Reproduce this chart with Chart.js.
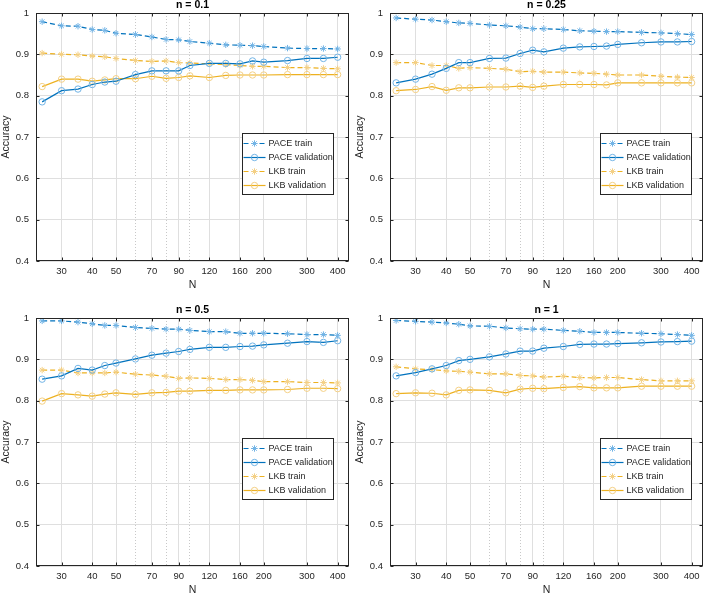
<!DOCTYPE html>
<html>
<head>
<meta charset="utf-8">
<title>PACE vs LKB accuracy</title>
<script src="https://cdn.jsdelivr.net/npm/chart.js@4.4.1/dist/chart.umd.min.js"></script>
<style>
  html, body { margin: 0; padding: 0; background: #fff; }
  #fig { position: relative; width: 708px; height: 597px; }
  #fig canvas { position: absolute; }
</style>
</head>
<body>
<div id="fig">
  <canvas id="p1" width="354" height="292" style="left:0;top:0"></canvas>
  <canvas id="p2" width="354" height="292" style="left:354px;top:0"></canvas>
  <canvas id="p3" width="354" height="292" style="left:0;top:305px"></canvas>
  <canvas id="p4" width="354" height="292" style="left:354px;top:305px"></canvas>
</div>
<script>
// training set sizes
const N_VALUES = [25, 30, 35, 40, 45, 50, 60, 70, 80, 90, 100, 120, 140, 160, 180, 200, 250, 300, 350, 400];
const X_TICKS = [30, 40, 50, 70, 90, 120, 160, 200, 300, 400];
const X_MINOR = [60, 80, 100];
const Y_TICKS = [0.4, 0.5, 0.6, 0.7, 0.8, 0.9, 1];
const TITLES = ["n = 0.1", "n = 0.25", "n = 0.5", "n = 1"];
const SERIES_NAMES = ["PACE train", "PACE validation", "LKB train", "LKB validation"];

// n = 0.1
const PACE_TRAIN_01 = [0.979, 0.969, 0.968, 0.960, 0.958, 0.951, 0.948, 0.942, 0.936, 0.935, 0.931, 0.927, 0.923, 0.922, 0.921, 0.919, 0.915, 0.914, 0.914, 0.913];
const PACE_VAL_01   = [0.785, 0.812, 0.816, 0.827, 0.833, 0.835, 0.851, 0.860, 0.860, 0.860, 0.873, 0.878, 0.878, 0.877, 0.884, 0.881, 0.885, 0.890, 0.890, 0.893];
const LKB_TRAIN_01  = [0.903, 0.900, 0.899, 0.896, 0.894, 0.890, 0.885, 0.883, 0.884, 0.880, 0.879, 0.877, 0.875, 0.873, 0.871, 0.871, 0.868, 0.868, 0.866, 0.865];
const LKB_VAL_01    = [0.822, 0.840, 0.840, 0.835, 0.838, 0.841, 0.841, 0.847, 0.842, 0.844, 0.848, 0.844, 0.849, 0.850, 0.850, 0.850, 0.851, 0.851, 0.851, 0.851];

// n = 0.25
const PACE_TRAIN_025 = [0.988, 0.985, 0.983, 0.979, 0.976, 0.975, 0.971, 0.969, 0.966, 0.962, 0.962, 0.960, 0.957, 0.956, 0.955, 0.955, 0.953, 0.952, 0.950, 0.948];
const PACE_VAL_025   = [0.831, 0.840, 0.852, 0.866, 0.880, 0.880, 0.890, 0.891, 0.902, 0.910, 0.906, 0.915, 0.918, 0.919, 0.920, 0.924, 0.928, 0.930, 0.930, 0.931];
const LKB_TRAIN_025  = [0.880, 0.880, 0.873, 0.873, 0.866, 0.868, 0.866, 0.864, 0.858, 0.859, 0.857, 0.857, 0.855, 0.854, 0.852, 0.850, 0.850, 0.847, 0.845, 0.844];
const LKB_VAL_025    = [0.812, 0.815, 0.822, 0.813, 0.819, 0.819, 0.821, 0.821, 0.823, 0.820, 0.823, 0.827, 0.827, 0.827, 0.826, 0.831, 0.831, 0.831, 0.831, 0.831];

// n = 0.5
const PACE_TRAIN_05 = [0.993, 0.993, 0.990, 0.986, 0.982, 0.982, 0.977, 0.975, 0.973, 0.973, 0.970, 0.967, 0.967, 0.963, 0.963, 0.963, 0.962, 0.960, 0.960, 0.958];
const PACE_VAL_05   = [0.852, 0.860, 0.878, 0.874, 0.885, 0.891, 0.901, 0.910, 0.915, 0.919, 0.924, 0.929, 0.929, 0.931, 0.932, 0.935, 0.939, 0.943, 0.941, 0.945];
const LKB_TRAIN_05  = [0.874, 0.874, 0.867, 0.867, 0.867, 0.869, 0.864, 0.862, 0.859, 0.854, 0.855, 0.854, 0.851, 0.851, 0.849, 0.846, 0.846, 0.844, 0.844, 0.843];
const LKB_VAL_05    = [0.799, 0.817, 0.814, 0.811, 0.816, 0.819, 0.815, 0.819, 0.820, 0.823, 0.823, 0.825, 0.825, 0.826, 0.826, 0.826, 0.827, 0.830, 0.830, 0.829];

// n = 1
const PACE_TRAIN_1 = [0.994, 0.992, 0.990, 0.988, 0.985, 0.981, 0.980, 0.976, 0.974, 0.973, 0.973, 0.970, 0.968, 0.965, 0.965, 0.965, 0.963, 0.962, 0.960, 0.958];
const PACE_VAL_1   = [0.860, 0.868, 0.877, 0.885, 0.897, 0.900, 0.906, 0.913, 0.920, 0.920, 0.927, 0.931, 0.936, 0.937, 0.937, 0.938, 0.940, 0.942, 0.943, 0.944];
const LKB_TRAIN_1  = [0.882, 0.877, 0.875, 0.872, 0.871, 0.869, 0.865, 0.865, 0.861, 0.860, 0.857, 0.859, 0.856, 0.855, 0.856, 0.856, 0.851, 0.848, 0.848, 0.848];
const LKB_VAL_1    = [0.817, 0.819, 0.818, 0.814, 0.825, 0.826, 0.825, 0.819, 0.828, 0.830, 0.829, 0.832, 0.834, 0.831, 0.831, 0.831, 0.835, 0.835, 0.835, 0.835];

const BLUE = "#0072bd", BLUE_MK = "#72b4e6";
const GOLD = "#edb120", GOLD_MK = "#f4d085";
const INK = "#262626";
const FONT = '"Liberation Sans", Arial, Helvetica, sans-serif';

function pts(vals) {
  return vals.map((v, i) => ({ x: N_VALUES[i], y: v }));
}

function makeDatasets(pt, pv, lt, lv) {
  const base = { tension: 0, borderWidth: 1.2, pointBorderWidth: 1, pointBackgroundColor: "rgba(0,0,0,0)", pointHoverRadius: 4 };
  return [
    Object.assign({}, base, { label: SERIES_NAMES[0], data: pts(pt), borderColor: BLUE, borderDash: [5, 3], pointStyle: "star", pointRadius: 3.2, pointBorderColor: BLUE_MK }),
    Object.assign({}, base, { label: SERIES_NAMES[1], data: pts(pv), borderColor: BLUE, pointStyle: "circle", pointRadius: 3.2, pointBorderColor: BLUE_MK }),
    Object.assign({}, base, { label: SERIES_NAMES[2], data: pts(lt), borderColor: GOLD, borderDash: [5, 3], pointStyle: "star", pointRadius: 3.2, pointBorderColor: GOLD_MK }),
    Object.assign({}, base, { label: SERIES_NAMES[3], data: pts(lv), borderColor: GOLD, pointStyle: "circle", pointRadius: 3.2, pointBorderColor: GOLD_MK })
  ];
}

function drawMarker(ctx, style, x, y, r) {
  ctx.beginPath();
  if (style === "circle") {
    ctx.arc(x, y, r, 0, Math.PI * 2);
  } else {
    for (let k = 0; k < 4; k++) {
      const a = k * Math.PI / 4;
      ctx.moveTo(x - Math.cos(a) * r, y - Math.sin(a) * r);
      ctx.lineTo(x + Math.cos(a) * r, y + Math.sin(a) * r);
    }
  }
  ctx.stroke();
}

// axes box, inward ticks, title and legend (MATLAB look)
const framePlugin = {
  id: "frame",
  afterDraw(chart, args, opts) {
    const { ctx, chartArea: a, scales } = chart;
    const x = scales.x, y = scales.y;
    const L = Math.round(a.left) + 0.5, R = Math.round(a.right) - 0.5;
    const T = Math.round(a.top) + 0.5, B = Math.round(a.bottom) - 0.5;
    ctx.save();
    ctx.strokeStyle = INK;
    ctx.lineWidth = 1;
    ctx.setLineDash([]);
    ctx.beginPath();
    X_TICKS.forEach((v) => {
      const px = Math.round(x.getPixelForValue(v)) + 0.5;
      ctx.moveTo(px, B); ctx.lineTo(px, B - 3);
      ctx.moveTo(px, T); ctx.lineTo(px, T + 3);
    });
    Y_TICKS.forEach((v) => {
      const py = Math.round(y.getPixelForValue(v)) + 0.5;
      ctx.moveTo(L, py); ctx.lineTo(L + 3, py);
      ctx.moveTo(R, py); ctx.lineTo(R - 3, py);
    });
    ctx.stroke();
    ctx.strokeRect(L, T, R - L, B - T);

    // title
    ctx.fillStyle = "#000";
    ctx.font = "bold 10.5px " + FONT;
    ctx.textAlign = "center";
    ctx.textBaseline = "middle";
    ctx.fillText(opts.title, (a.left + a.right) / 2, 5.5);

    // legend
    const lx = Math.round(a.left + opts.legendDx) + 0.5;
    const ly = Math.round(a.top + 120) + 0.5;
    const lw = 91, lh = 61;
    ctx.fillStyle = "#fff";
    ctx.fillRect(lx, ly, lw, lh);
    ctx.strokeStyle = INK;
    ctx.strokeRect(lx, ly, lw, lh);
    ctx.font = "9px " + FONT;
    ctx.textAlign = "left";
    chart.data.datasets.forEach((ds, i) => {
      const ry = ly + 10 + i * 14;
      ctx.strokeStyle = ds.borderColor;
      ctx.lineWidth = 1.2;
      ctx.setLineDash(ds.borderDash || []);
      ctx.beginPath();
      ctx.moveTo(lx + 1, ry); ctx.lineTo(lx + 23, ry);
      ctx.stroke();
      ctx.setLineDash([]);
      ctx.lineWidth = 1;
      ctx.strokeStyle = ds.pointBorderColor;
      drawMarker(ctx, ds.pointStyle, lx + 12, ry, 3.2);
      ctx.fillStyle = INK;
      ctx.fillText(ds.label, lx + 26, ry + 0.5);
    });
    ctx.restore();
  }
};

function makeChart(id, title, legendDx, datasets) {
  return new Chart(document.getElementById(id), {
    type: "line",
    data: { datasets: datasets },
    plugins: [framePlugin],
    options: {
      responsive: false,
      animation: false,
      layout: { padding: { top: 13, right: 5, left: 0, bottom: 0 } },
      plugins: {
        legend: { display: false },
        title: { display: false },
        tooltip: { enabled: true },
        frame: { title: title, legendDx: legendDx }
      },
      scales: {
        x: {
          type: "logarithmic",
          min: 23.6,
          max: 445,
          afterFit: (s) => { s.height = 31; },
          afterBuildTicks: (s) => {
            s.ticks = X_TICKS.concat(X_MINOR).sort((p, q) => p - q).map((v) => ({ value: v }));
          },
          ticks: {
            autoSkip: false,
            maxRotation: 0,
            padding: 5,
            color: INK,
            font: { family: FONT, size: 9.5 },
            callback: (v) => (X_TICKS.includes(v) ? String(v) : "")
          },
          grid: {
            drawTicks: false,
            color: (c) => (c.tick && X_MINOR.includes(c.tick.value) ? "#c8c8c8" : "#dfdfdf"),
            lineWidth: 1
          },
          border: {
            display: false,
            dash: (c) => (c.tick && X_MINOR.includes(c.tick.value) ? [1, 2] : [])
          },
          title: { display: true, text: "N", color: INK, font: { family: FONT, size: 10.5 }, padding: { top: 0, bottom: 1 } }
        },
        y: {
          type: "linear",
          min: 0.4,
          max: 1,
          afterFit: (s) => { s.width = 36; },
          afterBuildTicks: (s) => { s.ticks = Y_TICKS.map((v) => ({ value: v })); },
          ticks: {
            padding: 7,
            color: INK,
            font: { family: FONT, size: 9.5 },
            callback: (v) => (Math.abs(v - 1) < 1e-9 ? "1" : Number(v).toFixed(1))
          },
          grid: { drawTicks: false, color: "#dfdfdf", lineWidth: 1 },
          border: { display: false },
          title: { display: true, text: "Accuracy", color: INK, font: { family: FONT, size: 10.5 }, padding: { top: 0, bottom: 0 } }
        }
      }
    }
  });
}

makeChart("p1", TITLES[0], 206, makeDatasets(PACE_TRAIN_01, PACE_VAL_01, LKB_TRAIN_01, LKB_VAL_01));
makeChart("p2", TITLES[1], 210, makeDatasets(PACE_TRAIN_025, PACE_VAL_025, LKB_TRAIN_025, LKB_VAL_025));
makeChart("p3", TITLES[2], 206, makeDatasets(PACE_TRAIN_05, PACE_VAL_05, LKB_TRAIN_05, LKB_VAL_05));
makeChart("p4", TITLES[3], 210, makeDatasets(PACE_TRAIN_1, PACE_VAL_1, LKB_TRAIN_1, LKB_VAL_1));
</script>
</body>
</html>
